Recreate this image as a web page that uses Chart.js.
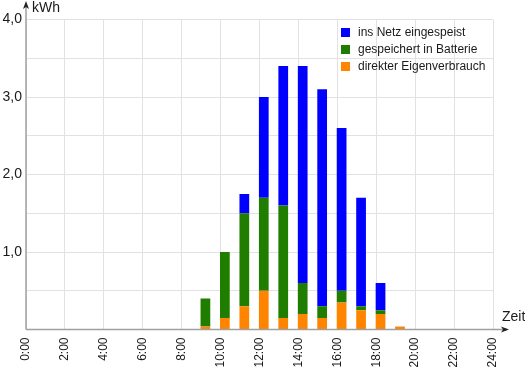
<!DOCTYPE html>
<html>
<head>
<meta charset="utf-8">
<script src="https://cdn.jsdelivr.net/npm/chart.js@4/dist/chart.umd.min.js"></script>
<style>
  html, body { margin: 0; padding: 0; background: #fff; }
  #chart { display: block; }
</style>
</head>
<body>
<canvas id="chart" width="525" height="370"></canvas>
<script>
// Stunden (Beginn des Intervalls)
const hours = [9, 10, 11, 12, 13, 14, 15, 16, 17, 18, 19];
const direkterEigenverbrauch = [0.04, 0.15, 0.3, 0.5, 0.15, 0.2, 0.15, 0.35, 0.25, 0.2, 0.04];
const gespeichertBatterie = [0.36, 0.85, 1.2, 1.2, 1.45, 0.4, 0.15, 0.15, 0.05, 0.05, 0];
const insNetz = [0, 0, 0.25, 1.3, 1.8, 2.8, 2.8, 2.1, 1.4, 0.35, 0];

const xTickLabels = ["0:00", "2:00", "4:00", "6:00", "8:00", "10:00", "12:00",
  "14:00", "16:00", "18:00", "20:00", "22:00", "24:00"];
const yTickLabels = ["1,0", "2,0", "3,0", "4,0"];

const FONT = "'Liberation Sans', Arial, sans-serif";
const TEXT = "#1a1a1a";

// bar sits in the first half of each hour
const toPoints = (values) => hours.map((h, i) => ({ x: h + 0.22, y: values[i] }));

const datasets = [
  { label: "direkter Eigenverbrauch", data: toPoints(direkterEigenverbrauch), backgroundColor: "rgb(255,133,0)" },
  { label: "gespeichert in Batterie", data: toPoints(gespeichertBatterie), backgroundColor: "rgb(31,125,0)" },
  { label: "ins Netz eingespeist", data: toPoints(insNetz), backgroundColor: "rgb(0,0,255)" },
];

// axis lines with arrows, axis titles and the legend inside the plot
const decorations = {
  id: "decorations",
  afterDraw(chart) {
    const ctx = chart.ctx;
    const a = chart.chartArea;
    ctx.save();

    // y axis
    ctx.strokeStyle = "#a0a0a0";
    ctx.lineWidth = 1.5;
    ctx.beginPath();
    ctx.moveTo(a.left, a.bottom);
    ctx.lineTo(a.left, 4);
    ctx.stroke();
    // x axis
    ctx.beginPath();
    ctx.moveTo(a.left, a.bottom);
    ctx.lineTo(a.right + 14, a.bottom);
    ctx.stroke();

    ctx.fillStyle = "#222";
    // up arrow
    ctx.beginPath();
    ctx.moveTo(a.left, 1);
    ctx.lineTo(a.left + 3, 9);
    ctx.lineTo(a.left, 7);
    ctx.lineTo(a.left - 3, 9);
    ctx.closePath();
    ctx.fill();
    // right arrow
    const tip = a.right + 16;
    ctx.beginPath();
    ctx.moveTo(tip, a.bottom);
    ctx.lineTo(tip - 8, a.bottom - 3);
    ctx.lineTo(tip - 6, a.bottom);
    ctx.lineTo(tip - 8, a.bottom + 3);
    ctx.closePath();
    ctx.fill();

    // axis titles
    ctx.fillStyle = TEXT;
    ctx.font = "14px " + FONT;
    ctx.textBaseline = "alphabetic";
    ctx.textAlign = "left";
    ctx.fillText("kWh", a.left + 6, 12);
    ctx.fillText("Zeit", a.right + 9, a.bottom - 9);

    // legend (reverse stacking order)
    ctx.font = "12px " + FONT;
    ctx.textBaseline = "middle";
    const ds = chart.data.datasets.slice().reverse();
    const x0 = a.right - 152;
    ds.forEach((d, i) => {
      const cy = a.top + 13 + i * 17;
      ctx.fillStyle = d.backgroundColor;
      ctx.fillRect(x0, cy - 4.5, 9, 9);
      ctx.fillStyle = TEXT;
      ctx.fillText(d.label, x0 + 17, cy);
    });
    ctx.restore();
  },
};

new Chart(document.getElementById("chart"), {
  type: "bar",
  data: { datasets },
  options: {
    responsive: false,
    devicePixelRatio: 1,
    animation: false,
    layout: { padding: { top: 19.5, right: 32, left: 0, bottom: 0 } },
    datasets: {
      bar: { categoryPercentage: 1, barPercentage: 0.5, borderWidth: 0 },
    },
    plugins: {
      legend: { display: false },
      tooltip: { enabled: false },
    },
    scales: {
      x: {
        type: "linear",
        stacked: true,
        offset: false,
        min: 0,
        max: 24,
        afterFit: (scale) => { scale.height = 40.5; },
        grid: { color: "#e2e2e2", drawTicks: false, offset: false },
        border: { display: false },
        ticks: {
          stepSize: 2,
          autoSkip: false,
          minRotation: 90,
          maxRotation: 90,
          padding: 8,
          color: TEXT,
          font: { family: FONT, size: 12 },
          callback: (v) => xTickLabels[v / 2] ?? "",
        },
      },
      y: {
        stacked: true,
        min: 0,
        max: 4,
        afterFit: (scale) => { scale.width = 26; },
        grid: { color: "#e2e2e2", drawTicks: false },
        border: { display: false },
        ticks: {
          stepSize: 0.5,
          padding: 4,
          color: TEXT,
          font: { family: FONT, size: 14 },
          callback: (v) => (Number.isInteger(v) && v > 0 ? yTickLabels[v - 1] : ""),
        },
      },
    },
  },
  plugins: [decorations],
});
</script>
</body>
</html>
